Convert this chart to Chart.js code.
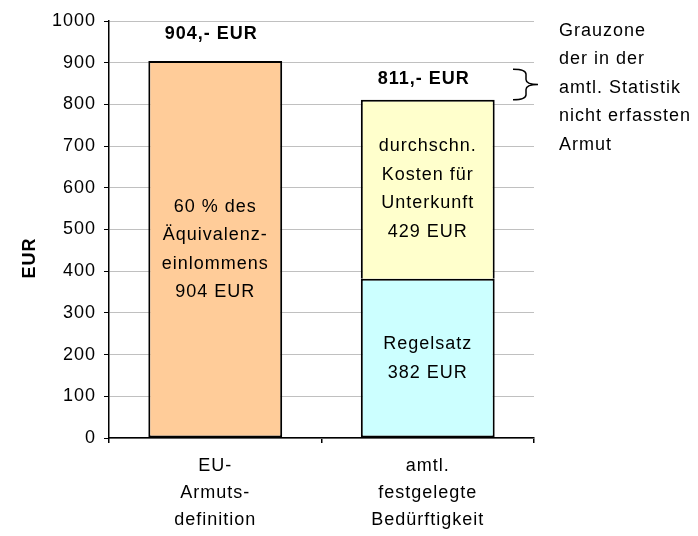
<!DOCTYPE html>
<html>
<head>
<meta charset="utf-8">
<script src="https://cdn.jsdelivr.net/npm/chart.js@4/dist/chart.umd.min.js"></script>
<style>
  html, body { margin: 0; padding: 0; background: #fff; }
  #wrap { width: 698px; height: 536px; }
</style>
</head>
<body>
<div id="wrap"><canvas id="myChart" width="698" height="536"></canvas></div>
<script>
let categories = [["EU-", "Armuts-", "definition"], ["amtl.", "festgelegte", "Bedürftigkeit"]];
let euValues = [904, null];
let regelsatzValues = [null, 382];
let unterkunftValues = [null, 429];
let totalLabels = ["904,- EUR", "811,- EUR"];
let euText = ["60 % des", "Äquivalenz-", "einlommens", "904 EUR"];
let unterkunftText = ["durchschn.", "Kosten für", "Unterkunft", "429 EUR"];
let regelsatzText = ["Regelsatz", "382 EUR"];
let sideNote = ["Grauzone", "der in der", "amtl. Statistik", "nicht erfassten", "Armut"];
let greyZone = [811, 884];

const FONT = "Liberation Sans, Arial, sans-serif";

function drawLines(c, lines, x, yMid, lh) {
  let y0 = yMid - (lines.length - 1) * lh / 2;
  lines.forEach((t, i) => c.fillText(t, x, y0 + i * lh));
}

const spacingPlugin = {
  id: "spacing",
  beforeDraw(chart) {
    chart.ctx.letterSpacing = "1px";
  }
};

const annotations = {
  id: "annotations",
  afterDraw(chart) {
    let c = chart.ctx;
    let y = chart.scales.y;
    let x = chart.scales.x;
    c.save();
    c.letterSpacing = "1px";
    c.fillStyle = "#000";
    c.textAlign = "center";
    c.textBaseline = "middle";
    c.font = "18px " + FONT;

    // texts inside the bars
    let x0 = x.getPixelForValue(0);
    let x1 = x.getPixelForValue(1);
    drawLines(c, euText, x0, y.getPixelForValue(euValues[0] / 2), 28.5);
    drawLines(c, regelsatzText, x1, y.getPixelForValue(regelsatzValues[1] / 2), 28.5);
    drawLines(c, unterkunftText, x1,
      y.getPixelForValue(regelsatzValues[1] + unterkunftValues[1] / 2), 28.5);

    // totals above the bars
    c.font = "bold 18px " + FONT;
    c.fillText(totalLabels[0], x0 - 4, y.getPixelForValue(euValues[0]) - 27);
    c.fillText(totalLabels[1], x1 - 4,
      y.getPixelForValue(regelsatzValues[1] + unterkunftValues[1]) - 21);

    // y axis title
    c.save();
    c.translate(30, 258);
    c.rotate(-Math.PI / 2);
    c.fillText("EUR", 0, 0);
    c.restore();

    // curly brace
    let yTop = y.getPixelForValue(greyZone[1]);
    let yBot = y.getPixelForValue(greyZone[0]);
    let yMid = (yTop + yBot) / 2;
    let bx0 = 513, bxm = 526, bx1 = 538, r = 5;
    c.strokeStyle = "#000";
    c.lineWidth = 1.5;
    c.beginPath();
    c.moveTo(bx0, yTop);
    c.quadraticCurveTo(bxm, yTop, bxm, yTop + r);
    c.lineTo(bxm, yMid - r);
    c.quadraticCurveTo(bxm, yMid, bx1, yMid);
    c.quadraticCurveTo(bxm, yMid, bxm, yMid + r);
    c.lineTo(bxm, yBot - r);
    c.quadraticCurveTo(bxm, yBot, bx0, yBot);
    c.stroke();

    // side note
    c.font = "18px " + FONT;
    c.textAlign = "left";
    sideNote.forEach((t, i) => c.fillText(t, 559, 31 + i * 28.5));
    c.restore();
  }
};

let ctx = document.getElementById("myChart");
let myChart = new Chart(ctx, {
  type: "bar",
  data: {
    labels: categories,
    datasets: [
      { label: "EU", data: euValues, backgroundColor: "#FFCC99" },
      { label: "Regelsatz", data: regelsatzValues, backgroundColor: "#CCFFFF" },
      { label: "Unterkunft", data: unterkunftValues, backgroundColor: "#FFFFCC", borderSkipped: "bottom" }
    ]
  },
  options: {
    responsive: false,
    animation: false,
    datasets: {
      bar: {
        borderColor: "#000",
        borderWidth: 2,
        borderSkipped: false,
        categoryPercentage: 1,
        barPercentage: 0.63
      }
    },
    layout: { padding: { left: 0, top: 21, right: 164, bottom: 0 } },
    plugins: {
      legend: { display: false },
      tooltip: { enabled: false }
    },
    scales: {
      x: {
        stacked: true,
        grid: { drawOnChartArea: false, tickLength: 5, tickColor: "#000", lineWidth: 1.5 },
        border: { color: "#000", width: 1.5 },
        ticks: { color: "#000", font: { family: FONT, size: 18, lineHeight: 1.5 }, padding: 10, maxRotation: 0 },
        afterFit(s) { s.height = 98; }
      },
      y: {
        stacked: true,
        min: 0,
        max: 1000,
        ticks: {
          stepSize: 100, color: "#000", font: { family: FONT, size: 18 }, padding: 8,
          callback: (v) => String(v)
        },
        grid: { color: "#C0C0C0", tickColor: "#000", tickLength: 5, lineWidth: 1 },
        border: { color: "#000", width: 1.5 },
        afterFit(s) { s.width = 109; }
      }
    }
  },
  plugins: [spacingPlugin, annotations]
});
</script>
</body>
</html>
